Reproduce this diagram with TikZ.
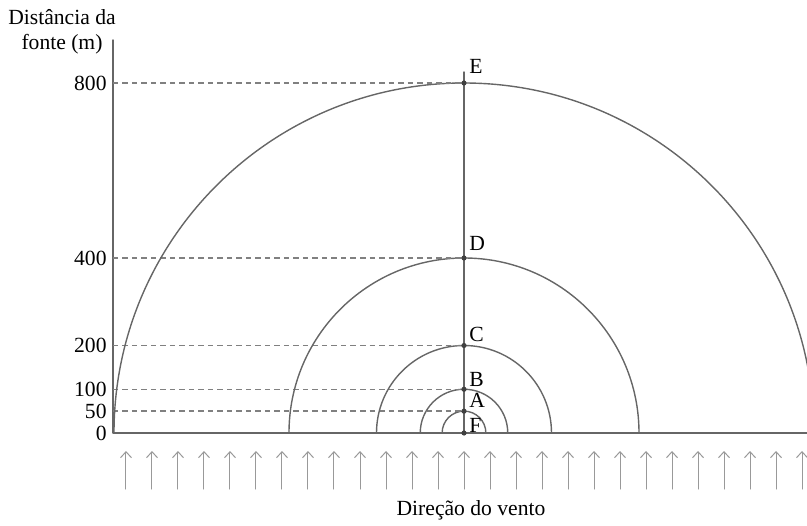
\documentclass[tikz,border=0pt]{standalone}
\usepackage{fontspec}
\setmainfont{Liberation Serif}
\usepackage{tikz}
\usetikzlibrary{arrows.meta}

\begin{document}
\begin{tikzpicture}[x=0.5pt, y=0.5pt, line cap=round, line join=round,
  font=\fontsize{10.8}{12.5}\selectfont,
  arc/.style={black!60, line width=0.7pt},
  guide/.style={black!50, line width=0.7pt, line cap=butt, dash pattern=on 2.75pt off 2pt},
  wind/.style={black!40, line width=0.5pt, -{Straight Barb[length=3pt, width=5.5pt]}},
  dot/.style={circle, fill=black!75, inner sep=0pt, minimum size=2.6pt},
  ptlabel/.style={anchor=base west, inner sep=0pt},
  ticklabel/.style={anchor=east, inner sep=0pt}]
\useasboundingbox (-464,-92) rectangle (343,433);

% axes and ground
\coordinate (O) at (-351,0);
\coordinate (axtop) at (-351,393);
\coordinate (gend) at (343,0);
\coordinate (F) at (0,0);
\coordinate (mast) at (0,361);
\draw[arc] (axtop) -- (O) -- (gend);
\draw[arc] (F) -- (mast);
\node[ticklabel] (t0) at (-357,0) {0};
\node[align=center, inner sep=0pt] (title) at (-402,401) {Distância da\\fonte (m)};

% distances
\foreach \name/\m in {A/50, B/100, C/200, D/400, E/800}{
  \pgfmathsetmacro\r{0.4375*\m}
  \coordinate (\name) at (0,\r);
  \draw[arc] (\r,0) arc[start angle=0, end angle=180, radius=\r];
  \draw[guide] (O |- \name) -- (\name);
  \node[ticklabel] (t\name) at (-357,\r) {\m};
}

% points
\foreach \name/\lift in {F/1, A/4, B/3, C/4, D/8, E/9}{
  \node[dot] (d\name) at (\name) {};
  \node[ptlabel] (l\name) at ([shift={(5,\lift)}]\name) {\name};
}

% wind
\foreach \i in {-13,...,13}
  \draw[wind] (\i*26,-56) -- (\i*26,-18);
\node (wlabel) at (7,-77) {Direção do vento};
\end{tikzpicture}
\end{document}
